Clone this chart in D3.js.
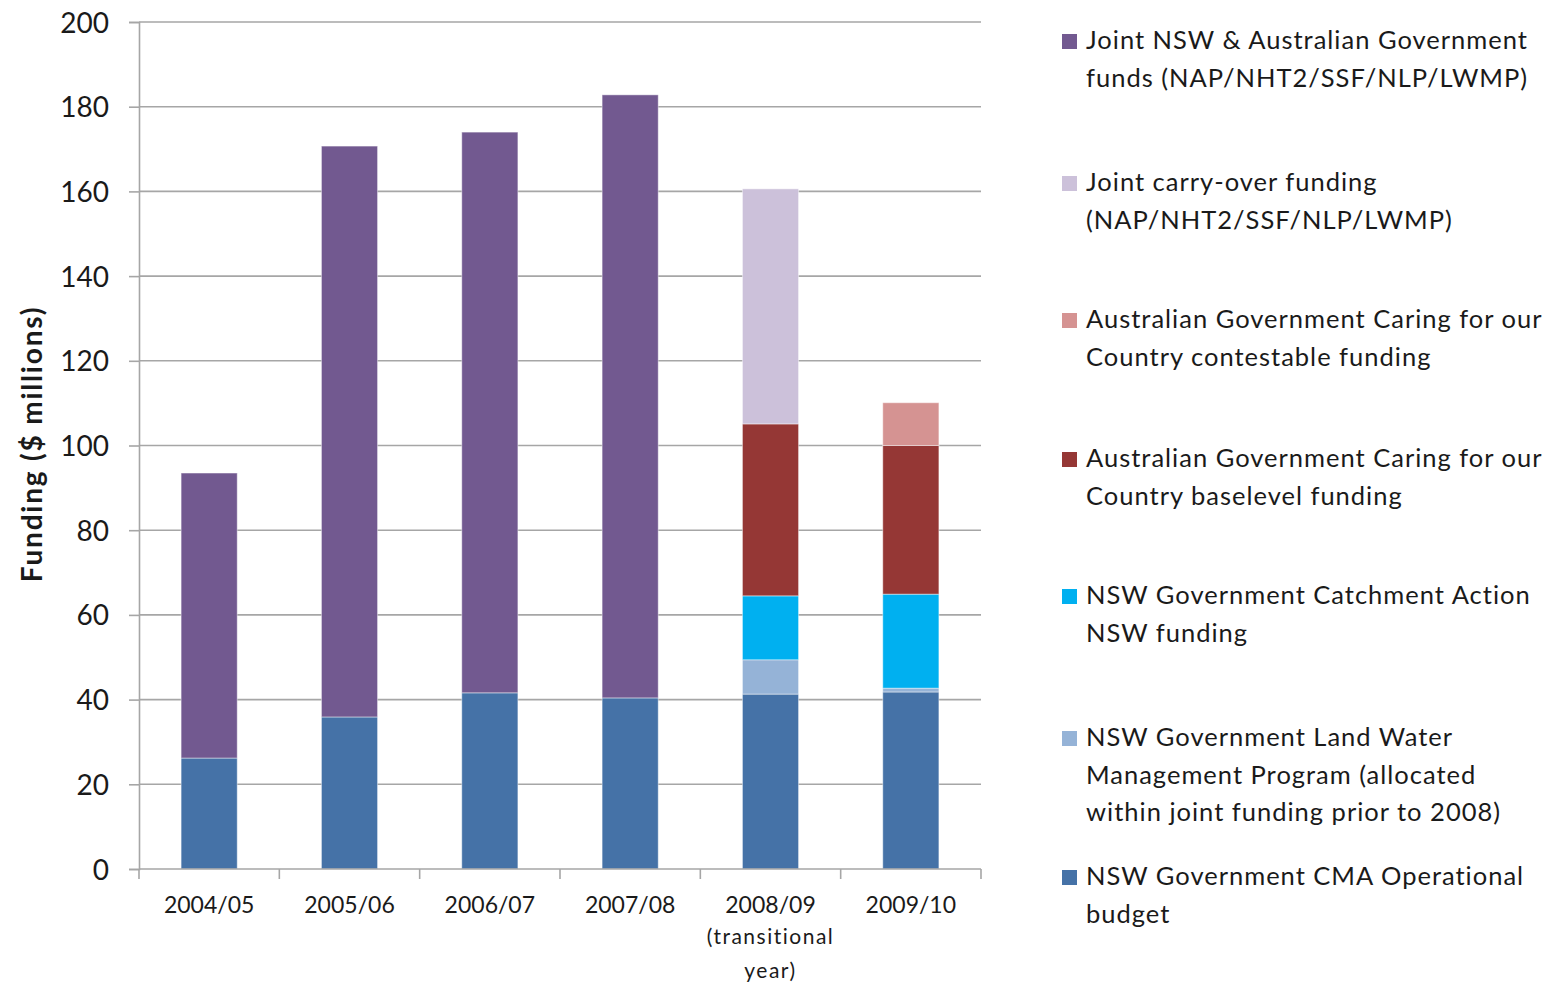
<!DOCTYPE html>
<html>
<head>
<meta charset="utf-8">
<script src="https://cdn.jsdelivr.net/npm/d3@7.9.0/dist/d3.min.js"></script>
<style>
  body { margin: 0; background: #fff; }
  svg text { font-family: Lato, "Open Sans", sans-serif; fill: #1a1a1a; }
</style>
</head>
<body>
<svg id="chart" width="1551" height="985"></svg>
<script>
// categories
const years = ['2004/05', '2005/06', '2006/07', '2007/08', '2008/09', '2009/10'];
const subLabels = ['', '', '', '', '(transitional|year)', ''];

// series values ($ millions), bottom to top of each stack
const cmaOperational  = [26.2, 35.9, 41.6, 40.4, 41.3, 41.8];
const landWater       = [0, 0, 0, 0, 8.1, 0.9];
const catchmentAction = [0, 0, 0, 0, 15.1, 22.2];
const cfocBase        = [0, 0, 0, 0, 40.6, 35.1];
const cfocContestable = [0, 0, 0, 0, 0, 10.1];
const jointCarryOver  = [0, 0, 0, 0, 55.5, 0];
const jointFunds      = [67.3, 134.8, 132.4, 142.4, 0, 0];

const yTicks = [0, 20, 40, 60, 80, 100, 120, 140, 160, 180, 200];

const series = [
  { key: 'cma', values: cmaOperational, color: '#4572a7',
    label: ['NSW Government CMA Operational', 'budget'] },
  { key: 'lwmp', values: landWater, color: '#95b3d7',
    label: ['NSW Government Land Water', 'Management Program (allocated', 'within joint funding prior to 2008)'] },
  { key: 'can', values: catchmentAction, color: '#00b0f0',
    label: ['NSW Government Catchment Action', 'NSW funding'] },
  { key: 'base', values: cfocBase, color: '#953735',
    label: ['Australian Government Caring for our', 'Country baselevel funding'] },
  { key: 'contest', values: cfocContestable, color: '#d59392',
    label: ['Australian Government Caring for our', 'Country contestable funding'] },
  { key: 'carry', values: jointCarryOver, color: '#ccc1da',
    label: ['Joint carry-over funding', '(NAP/NHT2/SSF/NLP/LWMP)'] },
  { key: 'joint', values: jointFunds, color: '#725990',
    label: ['Joint NSW & Australian Government', 'funds (NAP/NHT2/SSF/NLP/LWMP)'] }
];

// build table for d3.stack
const table = years.map((yr, i) => {
  let row = { year: yr };
  series.forEach(s => { row[s.key] = s.values[i]; });
  return row;
});

const svg = d3.select('#chart');
const plotLeft = 139, plotRight = 981, plotTop = 22, plotBottom = 869;

const x = d3.scaleBand().domain(years).range([plotLeft, plotRight]).paddingInner(0.6).paddingOuter(0.3);
const y = d3.scaleLinear().domain([0, 200]).range([plotBottom, plotTop]);

// gridlines
svg.append('g')
  .selectAll('line')
  .data(yTicks.filter(d => d > 0))
  .join('line')
  .attr('x1', plotLeft).attr('x2', plotRight)
  .attr('y1', d => y(d)).attr('y2', d => y(d))
  .attr('stroke', '#a6a6a6').attr('stroke-width', 1.6);

// y axis
const yAxis = svg.append('g')
  .attr('transform', `translate(${plotLeft},0)`)
  .call(d3.axisLeft(y).tickValues(yTicks).tickSize(10).tickPadding(20));
yAxis.select('.domain').attr('stroke', '#a6a6a6').attr('stroke-width', 1.6);
yAxis.selectAll('.tick line').attr('stroke', '#a6a6a6').attr('stroke-width', 1.6);
yAxis.selectAll('.tick text')
  .attr('font-size', 28).attr('font-family', 'Lato, sans-serif').attr('fill', '#1a1a1a')
  .attr('dy', '0.36em');

// bars
const stack = d3.stack().keys(series.map(s => s.key));
const stacked = stack(table);
const colorOf = d3.scaleOrdinal().domain(series.map(s => s.key)).range(series.map(s => s.color));

svg.append('g')
  .selectAll('g')
  .data(stacked)
  .join('g')
  .attr('fill', d => colorOf(d.key))
  .selectAll('rect')
  .data(d => d.filter(p => p[1] - p[0] > 0))
  .join('rect')
  .attr('x', d => x(d.data.year))
  .attr('width', x.bandwidth())
  .attr('y', d => y(d[1]))
  .attr('height', d => y(d[0]) - y(d[1]))
  .attr('stroke', 'rgba(255,255,255,0.45)')
  .attr('stroke-width', 1);

// x axis
const xg = svg.append('g');
xg.append('line')
  .attr('x1', plotLeft).attr('x2', plotRight)
  .attr('y1', plotBottom).attr('y2', plotBottom)
  .attr('stroke', '#a6a6a6').attr('stroke-width', 1.6);
const boundaries = d3.range(years.length + 1).map(i => plotLeft + (plotRight - plotLeft) * i / years.length);
xg.selectAll('line.tk')
  .data(boundaries)
  .join('line')
  .attr('class', 'tk')
  .attr('x1', d => d).attr('x2', d => d)
  .attr('y1', plotBottom).attr('y2', plotBottom + 10)
  .attr('stroke', '#a6a6a6').attr('stroke-width', 1.6);
xg.selectAll('text.yr')
  .data(years)
  .join('text')
  .attr('class', 'yr')
  .attr('x', d => x(d) + x.bandwidth() / 2)
  .attr('y', 913)
  .attr('text-anchor', 'middle')
  .attr('font-size', 23)
  .text(d => d);
subLabels.forEach((s, i) => {
  if (!s) return;
  s.split('|').forEach((line, j) => {
    xg.append('text')
      .attr('x', x(years[i]) + x.bandwidth() / 2)
      .attr('y', 944 + j * 34)
      .attr('text-anchor', 'middle')
      .attr('font-size', 21)
      .attr('letter-spacing', 1.5)
      .text(line);
  });
});

// y axis title
svg.append('text')
  .attr('transform', 'translate(42,444) rotate(-90)')
  .attr('text-anchor', 'middle')
  .attr('font-size', 28)
  .attr('font-weight', 'bold')
  .attr('letter-spacing', 1.8)
  .text('Funding ($ millions)');

// legend (top = last series)
const legendTops = [40, 182, 319, 458, 595, 737, 876];
const legendSeries = series.slice().reverse();
const legend = svg.append('g');
legendSeries.forEach((s, i) => {
  const cy = legendTops[i];
  legend.append('rect')
    .attr('x', 1062).attr('y', cy - 6)
    .attr('width', 15).attr('height', 15)
    .attr('fill', s.color);
  s.label.forEach((line, j) => {
    legend.append('text')
      .attr('x', 1086)
      .attr('y', cy + j * 37.5)
      .attr('dy', '0.36em')
      .attr('font-size', 25.5)
      .attr('letter-spacing', 1.0)
      .text(line);
  });
});
</script>
</body>
</html>
